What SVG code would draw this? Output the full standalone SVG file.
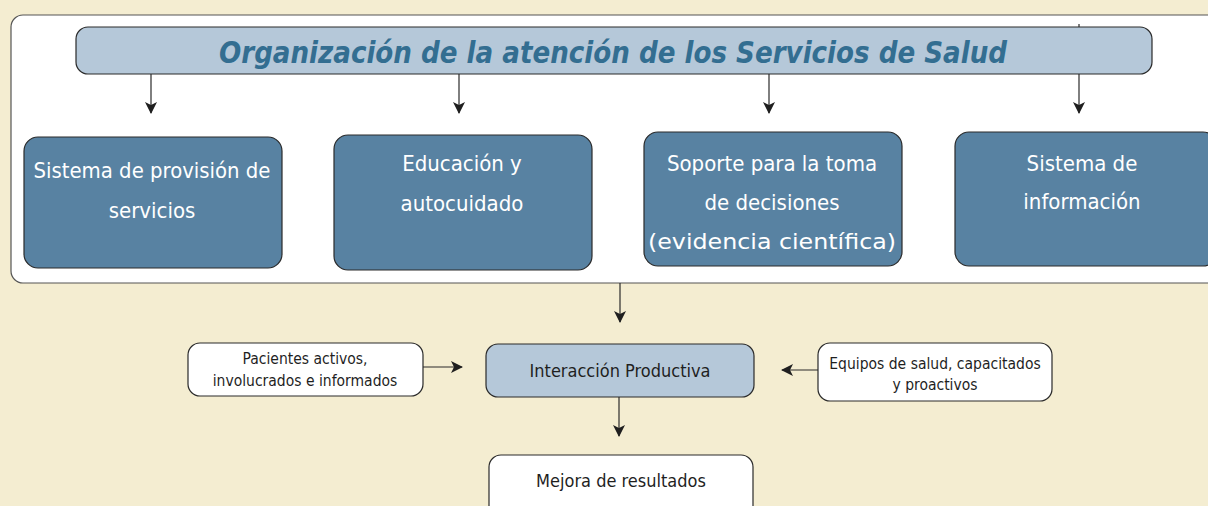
<svg xmlns="http://www.w3.org/2000/svg" width="1208" height="506" viewBox="0 0 1208 506">
<defs>
<marker id="ah" markerWidth="12" markerHeight="12" viewBox="0 0 12 12" refX="11" refY="6" orient="auto" markerUnits="userSpaceOnUse">
<path d="M0,0 L12,6 L0,12 L3,6 Z" fill="#1f1f1f"/>
</marker>
<style>
.bg{fill:#F4EDD1}
.panel{fill:#ffffff;stroke:#555;stroke-width:1.2}
.light{fill:#B5C8D9;stroke:#2a2a2a;stroke-width:1.2}
.dark{fill:#5882A2;stroke:#2a2a2a;stroke-width:1.2}
.white{fill:#ffffff;stroke:#2a2a2a;stroke-width:1.2}
.title{font-family:"DejaVu Sans Condensed","DejaVu Sans",sans-serif;font-weight:bold;font-style:italic;font-size:30px;fill:#336E91}
.bt{font-family:"DejaVu Sans Condensed","DejaVu Sans",sans-serif;font-size:22px;fill:#ffffff}
.st{font-family:"DejaVu Sans Condensed","DejaVu Sans",sans-serif;fill:#1f1f1f}
.conn{stroke:#2a2a2a;stroke-width:1.2;fill:none}
</style>
</defs>
<rect class="bg" x="0" y="0" width="1208" height="506"/>
<rect class="panel" x="11" y="15" width="1220" height="268" rx="12"/>
<g id="connectors">
<line class="conn" x1="151" y1="74" x2="151" y2="113" marker-end="url(#ah)"/>
<line class="conn" x1="459" y1="74" x2="459" y2="113" marker-end="url(#ah)"/>
<line class="conn" x1="769" y1="74" x2="769" y2="113" marker-end="url(#ah)"/>
<line class="conn" x1="1079" y1="24" x2="1079" y2="113" marker-end="url(#ah)"/>
<line class="conn" x1="620" y1="283" x2="620" y2="322" marker-end="url(#ah)"/>
<line class="conn" x1="423" y1="367" x2="462" y2="367" marker-end="url(#ah)"/>
<line class="conn" x1="818" y1="370" x2="782" y2="370" marker-end="url(#ah)"/>
<line class="conn" x1="619" y1="397" x2="619" y2="436" marker-end="url(#ah)"/>
</g>
<g id="title">
<rect class="light" x="76" y="27" width="1076" height="47" rx="12"/>
<text class="title" x="613" y="63" text-anchor="middle" textLength="788" lengthAdjust="spacingAndGlyphs">Organización de la atención de los Servicios de Salud</text>
</g>
<g id="box1">
<rect class="dark" x="24" y="137" width="258" height="131" rx="14"/>
<text class="bt" x="152" y="178" text-anchor="middle" textLength="237" lengthAdjust="spacingAndGlyphs">Sistema de provisión de</text>
<text class="bt" x="152" y="218" text-anchor="middle">servicios</text>
</g>
<g id="box2">
<rect class="dark" x="334" y="135" width="258" height="135" rx="14"/>
<text class="bt" x="462" y="171" text-anchor="middle">Educación y</text>
<text class="bt" x="462" y="211" text-anchor="middle">autocuidado</text>
</g>
<g id="box3">
<rect class="dark" x="644" y="132" width="258" height="134" rx="14"/>
<text class="bt" x="772" y="171" text-anchor="middle">Soporte para la toma</text>
<text class="bt" x="772" y="210" text-anchor="middle">de decisiones</text>
<text class="bt" x="772" y="249" text-anchor="middle" textLength="248" lengthAdjust="spacingAndGlyphs">(evidencia científica)</text>
</g>
<g id="box4">
<rect class="dark" x="955" y="132" width="262" height="134" rx="14"/>
<text class="bt" x="1082" y="171" text-anchor="middle">Sistema de</text>
<text class="bt" x="1082" y="209" text-anchor="middle">información</text>
</g>
<g id="pacientes">
<rect class="white" x="188" y="343" width="235" height="53" rx="12"/>
<text class="st" x="305" y="364" text-anchor="middle" font-size="15.5">Pacientes activos,</text>
<text class="st" x="305" y="386" text-anchor="middle" font-size="15.5">involucrados e informados</text>
</g>
<g id="interaccion">
<rect class="light" x="486" y="344" width="268" height="53" rx="12"/>
<text class="st" x="620" y="377" text-anchor="middle" font-size="18">Interacción Productiva</text>
</g>
<g id="equipos">
<rect class="white" x="818" y="343" width="234" height="58" rx="12"/>
<text class="st" x="935" y="369" text-anchor="middle" font-size="15.5">Equipos de salud, capacitados</text>
<text class="st" x="935" y="390" text-anchor="middle" font-size="15.5">y proactivos</text>
</g>
<g id="mejora">
<rect class="white" x="489" y="455" width="264" height="70" rx="12"/>
<text class="st" x="621" y="487" text-anchor="middle" font-size="18">Mejora de resultados</text>
</g>
</svg>
